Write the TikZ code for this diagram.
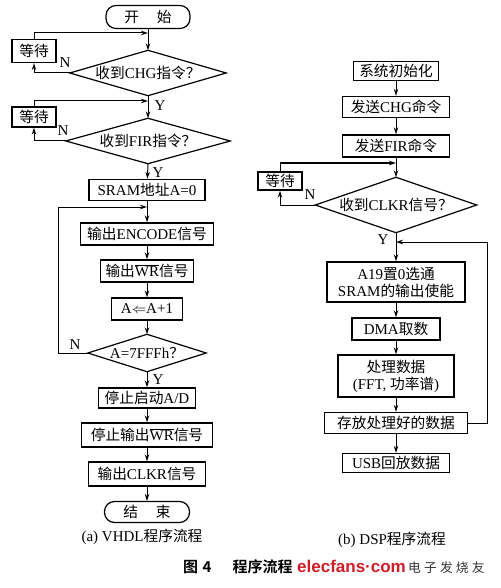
\documentclass[tikz,border=0pt]{standalone}
\usepackage{fontspec}
\setmainfont{Liberation Serif}
\newfontfamily\cjk{Noto Sans CJK SC}[Scale=0.98]
\newfontfamily\cjkb{Noto Sans CJK SC Bold}
\newfontfamily\wmfont{Liberation Sans}
\newcommand\zhs[1]{{\cjk #1}}
\usetikzlibrary{arrows.meta}
\definecolor{wmred}{RGB}{205,30,40}
\begin{document}
\begin{tikzpicture}[x=1pt,y=-1pt,
  every node/.style={font=\fontsize{15pt}{17pt}\selectfont},
  box/.style={draw,line width=1.4pt,rectangle,inner sep=1pt,align=center},
  term/.style={draw,line width=1.2pt,rectangle,rounded corners=10pt,inner sep=1pt},
  dec/.style={rectangle,inner sep=0pt},
  dia/.style={line width=1.2pt,line join=miter},
  arr/.style={line width=1pt,-{Stealth[length=7pt,width=4.5pt]}},
  lbl/.style={inner sep=0pt}]
\useasboundingbox (0,0) rectangle (500,588);
% ---------- left column ----------
\node[term,minimum width=84pt,minimum height=23pt] (start) at (148,17) {\zhs{开\hspace{1.2em}始}};
\node[dec,minimum width=156pt,minimum height=45pt] (d1) at (148,73) {\zhs{收到}CHG\zhs{指令？}};
\draw[dia] (d1.north) -- (d1.east) -- (d1.south) -- (d1.west) -- cycle;
\node[box,minimum width=44pt,minimum height=23pt] (w1) at (34,51) {\zhs{等待}};
\coordinate (j1) at (148,33);
\node[dec,minimum width=164pt,minimum height=45pt] (d2) at (148,141) {\zhs{收到}FIR\zhs{指令？}};
\draw[dia] (d2.north) -- (d2.east) -- (d2.south) -- (d2.west) -- cycle;
\node[box,minimum width=44pt,minimum height=20pt] (w2) at (34,117) {\zhs{等待}};
\coordinate (j2) at (148,101);
\node[box,minimum width=116pt,minimum height=21pt] (sram) at (147,190) {SRAM\zhs{地址}A=0};
\node[box,minimum width=133pt,minimum height=22pt] (enc) at (147,234) {\zhs{输出}ENCODE\zhs{信号}};
\coordinate (j3) at (147,207);
\coordinate (l3) at (58,207);
\node[box,minimum width=93pt,minimum height=22pt] (wr) at (147,271) {\zhs{输出}$\overline{\mbox{WR}}$\zhs{信号}};
\node[box,minimum width=71pt,minimum height=22pt] (ainc) at (147,309) {A$\Leftarrow$A+1};
\node[dec,minimum width=118pt,minimum height=37pt] (d3) at (147,353) {A=7FFFh\zhs{？}};
\draw[dia] (d3.north) -- (d3.east) -- (d3.south) -- (d3.west) -- cycle;
\node[box,minimum width=97pt,minimum height=20pt] (stopad) at (147,398) {\zhs{停止启动}A/D};
\node[box,minimum width=131pt,minimum height=24pt] (stopwr) at (147,435) {\zhs{停止输出}$\overline{\mbox{WR}}$\zhs{信号}};
\node[box,minimum width=117pt,minimum height=24pt] (clkr) at (147,474) {\zhs{输出}CLKR\zhs{信号}};
\node[term,minimum width=85pt,minimum height=21pt] (end) at (147,512) {\zhs{结\hspace{1.2em}束}};
\node[lbl] (capa) at (142,537) {(a) VHDL\zhs{程序流程}};
% labels
\node[lbl] (n1) at (65,63) {N};
\node[lbl] (y1) at (160,106) {Y};
\node[lbl] (n2) at (63,131) {N};
\node[lbl] (y2) at (158,173) {Y};
\node[lbl] (n3) at (75,345) {N};
\node[lbl] (y3) at (158,380) {Y};
% connectors left
\draw[arr] (start) -- (d1.north);
\draw[arr] (d1.west) -| (w1.south);
\draw[arr] (w1.north) |- (j1);
\draw[arr] (d1.south) -- (d2.north);
\draw[arr] (d2.west) -| (w2.south);
\draw[arr] (w2.north) |- (j2);
\draw[arr] (d2.south) -- (sram);
\draw[arr] (sram) -- (enc);
\draw[arr] (d3.west) -| (l3) -- (j3);
\draw[arr] (enc) -- (wr);
\draw[arr] (wr) -- (ainc);
\draw[arr] (ainc) -- (d3.north);
\draw[arr] (d3.south) -- (stopad);
\draw[arr] (stopad) -- (stopwr);
\draw[arr] (stopwr) -- (clkr);
\draw[arr] (clkr) -- (end);
% ---------- right column ----------
\node[box,minimum width=85pt,minimum height=19pt] (init) at (396,71) {\zhs{系统初始化}};
\node[box,minimum width=107pt,minimum height=21pt] (chg) at (396,107) {\zhs{发送}CHG\zhs{命令}};
\node[box,minimum width=107pt,minimum height=22pt] (fir) at (396,146) {\zhs{发送}FIR\zhs{命令}};
\coordinate (j4) at (396,163);
\node[box,minimum width=44pt,minimum height=18pt] (w3) at (280,181) {\zhs{等待}};
\node[dec,minimum width=161pt,minimum height=55pt] (d4) at (396,205) {\zhs{收到}CLKR\zhs{信号？}};
\draw[dia] (d4.north) -- (d4.east) -- (d4.south) -- (d4.west) -- cycle;
\node[lbl] (n4) at (310,195) {N};
\node[lbl] (y4) at (383,240) {Y};
\coordinate (j5) at (396,242);
\coordinate (r5) at (487,242);
\node[box,minimum width=138pt,minimum height=40pt] (a19) at (396,282) {A19\zhs{置}0\zhs{选通}\\SRAM\zhs{的输出使能}};
\node[box,minimum width=88pt,minimum height=22pt] (dma) at (396,329) {DMA\zhs{取数}};
\node[box,minimum width=116pt,minimum height=42pt] (proc) at (396,376) {\zhs{处理数据}\\(FFT, \zhs{功率谱})};
\node[box,minimum width=143pt,minimum height=21pt] (store) at (396,423) {\zhs{存放处理好的数据}};
\node[box,minimum width=107pt,minimum height=19pt] (usb) at (396,463) {USB\zhs{回放数据}};
\node[lbl] (capb) at (392,540) {(b) DSP\zhs{程序流程}};
% connectors right
\draw[arr] (init) -- (chg);
\draw[arr] (chg) -- (fir);
\draw[arr] (fir) -- (d4.north);
\draw[arr] (d4.west) -| (w3.south);
\draw[arr] (w3.north) |- (j4);
\draw[arr] (d4.south) -- (a19);
\draw[arr] (store.east) -| (r5) -- (j5);
\draw[arr] (a19) -- (dma);
\draw[arr] (dma) -- (proc);
\draw[arr] (proc) -- (store);
\draw[arr] (store) -- (usb);
% ---------- figure caption and watermark ----------
\node[lbl,anchor=west,font=\fontsize{15pt}{17pt}\cjkb] (fig) at (183,567) {图\hspace{0.3em}4\hspace{1.4em}程序流程};
\node[lbl,anchor=west,font=\fontsize{17pt}{19pt}\wmfont\bfseries,text=wmred] (wm) at (297,566) {elecfans{\textperiodcentered}com};
\node[lbl,anchor=west,font=\fontsize{13pt}{15pt}\cjk,text=black!80] (wm2) at (408,568) {电\hspace{0.25em}子\hspace{0.25em}发\hspace{0.25em}烧\hspace{0.25em}友};
\end{tikzpicture}
\end{document}
